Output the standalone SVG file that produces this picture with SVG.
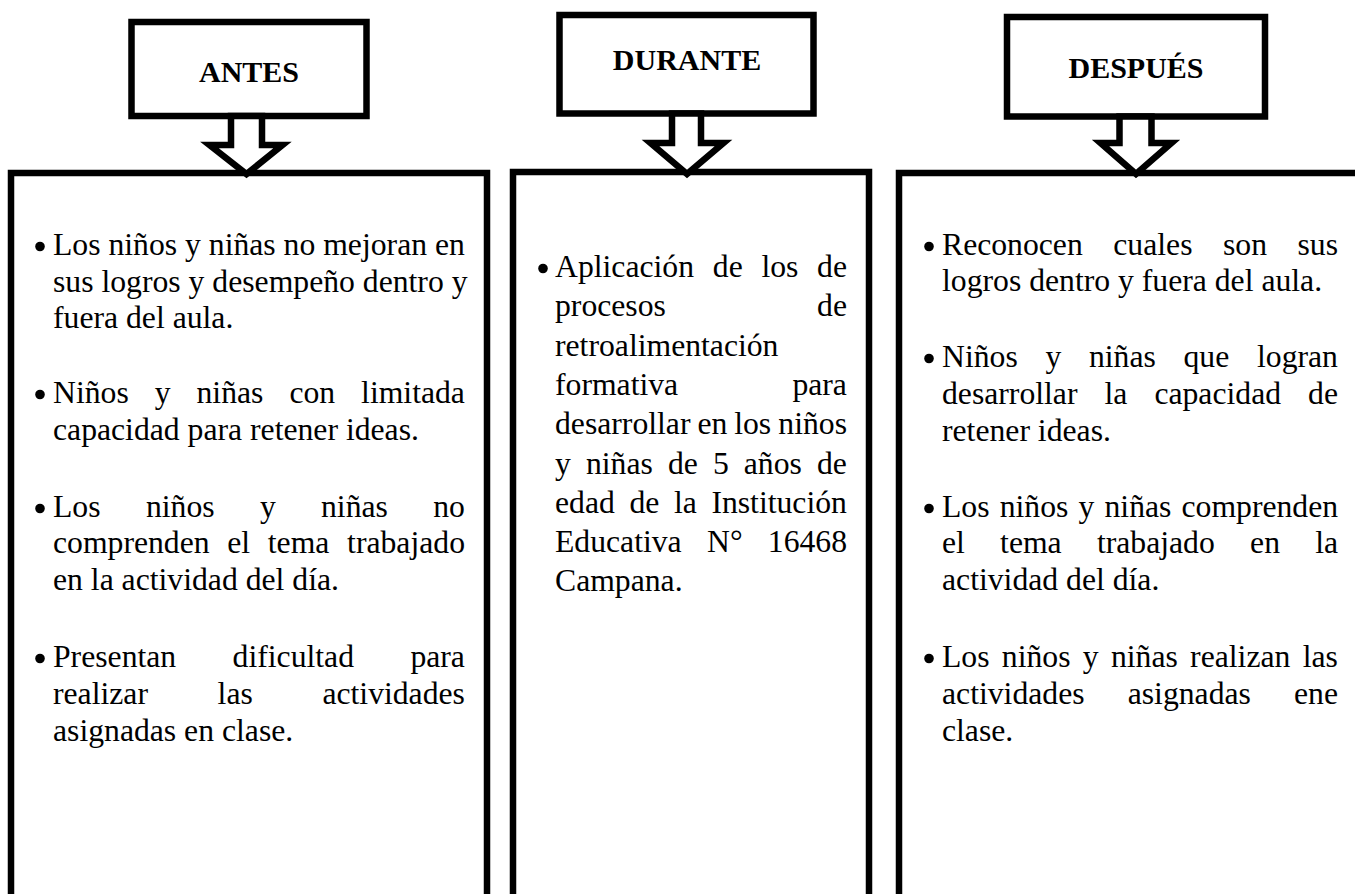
<svg xmlns="http://www.w3.org/2000/svg" width="1355" height="894" viewBox="0 0 1355 894">
<style>
.box{fill:none;stroke:#000;stroke-width:6.5}
.arrow{fill:#fff;stroke:#000;stroke-width:6.5;stroke-linejoin:miter;stroke-miterlimit:10}
.t{font-family:"Liberation Serif","Times New Roman",serif;font-weight:bold;font-size:30px;fill:#000;text-anchor:middle}
.b{font-family:"Liberation Serif","Times New Roman",serif;font-size:31.7px;fill:#000}
.dot{fill:#000}
</style>
<rect width="1355" height="894" fill="#fff"/>

<g id="antes-body">
<rect class="box" x="11" y="173" width="476" height="760"/>
<circle class="dot" cx="40" cy="246.5" r="4.8"/>
<text class="b" x="53" y="255">Los niños y niñas no mejoran en</text>
<text class="b" x="53" y="292">sus logros y desempeño dentro y</text>
<text class="b" x="53" y="328">fuera del aula.</text>
<circle class="dot" cx="40" cy="394.5" r="4.8"/>
<text class="b" y="403"><tspan x="53">Niños</tspan><tspan x="154.7">y</tspan><tspan x="196.5">niñas</tspan><tspan x="289.4">con</tspan><tspan x="361.1">limitada</tspan></text>
<text class="b" x="53" y="440">capacidad para retener ideas.</text>
<circle class="dot" cx="40" cy="508.5" r="4.8"/>
<text class="b" y="517"><tspan x="53">Los</tspan><tspan x="145.9">niños</tspan><tspan x="259.9">y</tspan><tspan x="321">niñas</tspan><tspan x="433.2">no</tspan></text>
<text class="b" y="553"><tspan x="53">comprenden</tspan><tspan x="227.2">el</tspan><tspan x="267.8">tema</tspan><tspan x="347.1">trabajado</tspan></text>
<text class="b" x="53" y="590">en la actividad del día.</text>
<circle class="dot" cx="40" cy="658.5" r="4.8"/>
<text class="b" y="667"><tspan x="53">Presentan</tspan><tspan x="232.6">dificultad</tspan><tspan x="410.4">para</tspan></text>
<text class="b" y="704"><tspan x="53">realizar</tspan><tspan x="217.6">las</tspan><tspan x="322.4">actividades</tspan></text>
<text class="b" x="53" y="741">asignadas en clase.</text>
</g>

<g id="durante-body">
<rect class="box" x="513" y="172" width="356" height="760"/>
<circle class="dot" cx="543" cy="268.5" r="4.8"/>
<text class="b" y="277"><tspan x="555">Aplicación</tspan><tspan x="712.8">de</tspan><tspan x="761.4">los</tspan><tspan x="817.1">de</tspan></text>
<text class="b" y="316.3"><tspan x="555">procesos</tspan><tspan x="817.1">de</tspan></text>
<text class="b" x="555" y="355.6">retroalimentación</text>
<text class="b" y="394.9"><tspan x="555">formativa</tspan><tspan x="792.4">para</tspan></text>
<text class="b" y="434.2"><tspan x="555">desarrollar</tspan><tspan x="697.4">en</tspan><tspan x="734.2">los</tspan><tspan x="778.3">niños</tspan></text>
<text class="b" y="473.5"><tspan x="555">y</tspan><tspan x="585.9">niñas</tspan><tspan x="667.9">de</tspan><tspan x="712.9">5</tspan><tspan x="743.8">años</tspan><tspan x="817">de</tspan></text>
<text class="b" y="512.8"><tspan x="555">edad</tspan><tspan x="629.4">de</tspan><tspan x="673.9">la</tspan><tspan x="711.4">Institución</tspan></text>
<text class="b" y="552.1"><tspan x="555">Educativa</tspan><tspan x="707">N°</tspan><tspan x="767.8">16468</tspan></text>
<text class="b" x="555" y="591.4">Campana.</text>
</g>

<g id="despues-body">
<rect class="box" x="899" y="173" width="480" height="760"/>
<circle class="dot" cx="929" cy="246.5" r="4.8"/>
<text class="b" y="255"><tspan x="942">Reconocen</tspan><tspan x="1113.3">cuales</tspan><tspan x="1223">son</tspan><tspan x="1297.5">sus</tspan></text>
<text class="b" x="942" y="291">logros dentro y fuera del aula.</text>
<circle class="dot" cx="929" cy="358.5" r="4.8"/>
<text class="b" y="367"><tspan x="942">Niños</tspan><tspan x="1045.4">y</tspan><tspan x="1088.9">niñas</tspan><tspan x="1183.5">que</tspan><tspan x="1257">logran</tspan></text>
<text class="b" y="404"><tspan x="942">desarrollar</tspan><tspan x="1104.5">la</tspan><tspan x="1154.4">capacidad</tspan><tspan x="1308.1">de</tspan></text>
<text class="b" x="942" y="441">retener ideas.</text>
<circle class="dot" cx="929" cy="508.5" r="4.8"/>
<text class="b" y="517"><tspan x="942">Los</tspan><tspan x="999.7">niños</tspan><tspan x="1078.5">y</tspan><tspan x="1104.5">niñas</tspan><tspan x="1181.5">comprenden</tspan></text>
<text class="b" y="553"><tspan x="942">el</tspan><tspan x="1000.1">tema</tspan><tspan x="1096.9">trabajado</tspan><tspan x="1250.1">en</tspan><tspan x="1315.2">la</tspan></text>
<text class="b" x="942" y="590">actividad del día.</text>
<circle class="dot" cx="929" cy="658.5" r="4.8"/>
<text class="b" y="667"><tspan x="942">Los</tspan><tspan x="1001.8">niños</tspan><tspan x="1082.8">y</tspan><tspan x="1110.9">niñas</tspan><tspan x="1190.1">realizan</tspan><tspan x="1302.7">las</tspan></text>
<text class="b" y="704"><tspan x="942">actividades</tspan><tspan x="1127.7">asignadas</tspan><tspan x="1294">ene</tspan></text>
<text class="b" x="942" y="741">clase.</text>
</g>

<g id="antes-title">
<rect class="box" x="131.5" y="22" width="235" height="94"/>
<text class="t" x="249" y="82">ANTES</text>
</g>
<g id="durante-title">
<rect class="box" x="559.5" y="15" width="254" height="98.5"/>
<text class="t" x="687" y="70">DURANTE</text>
</g>
<g id="despues-title">
<rect class="box" x="1007" y="17" width="258" height="99.5"/>
<text class="t" x="1136" y="78">DESPUÉS</text>
</g>

<g id="connectors">
<polygon class="arrow" points="231,116 231,145 209.5,145 246.5,174 282.5,145 262,145 262,116"/>
<polygon class="arrow" points="672,113.5 672,143 650.5,143 687,174 723.5,143 701,143 701,113.5"/>
<polygon class="arrow" points="1119.5,116.5 1119.5,143 1100.5,143 1136,174 1171.5,143 1151.5,143 1151.5,116.5"/>
</g>
</svg>
